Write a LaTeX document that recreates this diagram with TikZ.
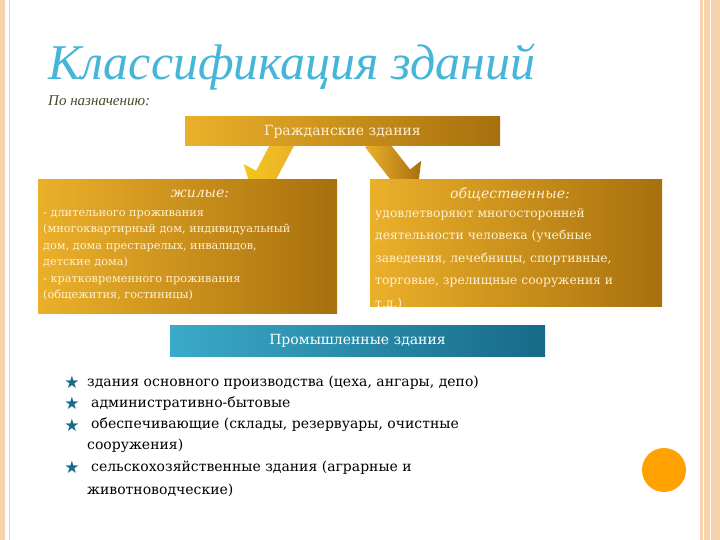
\documentclass[tikz,border=0pt]{standalone}
\usepackage{fontspec}
\setmainfont{DejaVu Serif}
\newfontfamily\libser{Liberation Serif}
\newfontfamily\dejavu{DejaVu Sans}
\usetikzlibrary{shapes.arrows}
\definecolor{goldA}{HTML}{EBB02A}
\definecolor{goldB}{HTML}{A8700E}
\definecolor{tealA}{HTML}{3AAAC8}
\definecolor{tealB}{HTML}{176A88}
\definecolor{titleblue}{HTML}{45B5D8}
\definecolor{peach}{HTML}{F6D3AC}
\definecolor{boxtext}{HTML}{FFF0D0}
\begin{document}
\begin{tikzpicture}[x=1pt,y=-1pt,
  goldbox/.style={left color=goldA,right color=goldB,draw=none},
  tealbox/.style={left color=tealA,right color=tealB,draw=none},
  btext/.style={text=boxtext,font=\fontsize{11.3}{16.5}\selectfont,align=left,anchor=north west,inner sep=0pt},
  item/.style={anchor=west,inner sep=0pt,font=\fontsize{14}{17}\selectfont,align=left},
  star/.style={text=tealB,font=\dejavu\fontsize{17}{17}\selectfont,inner sep=0pt}]
\useasboundingbox (0,0) rectangle (720,540);
\fill[white] (0,0) rectangle (720,540);
% frame
\fill[peach] (0,0) rectangle (5,540);
\draw[peach,line width=1pt] (9,0) -- (9,540);
\fill[peach] (700,0) rectangle (720,540);
\draw[white,line width=1pt] (703,0) -- (703,540);
\draw[white,line width=1pt] (710,0) -- (710,540);
% title
\node[anchor=base west,inner sep=0pt,text=titleblue,font=\libser\itshape\fontsize{50}{50}\selectfont] (title) at (48,80) {Классификация зданий};
\node[anchor=base west,inner sep=0pt,text=black!60!olive,font=\libser\itshape\fontsize{15}{15}\selectfont] (sub) at (48,106) {По назначению:};
% arrows
\node[single arrow,left color=goldA!70!yellow,right color=goldA,draw=none,minimum height=66pt,minimum width=50pt,single arrow head extend=12pt,inner sep=9pt,rotate=-118] (al) at (272,164) {};
\node[single arrow,left color=goldA,right color=goldB,draw=none,minimum height=70pt,minimum width=50pt,single arrow head extend=12pt,inner sep=9pt,rotate=-52] (ar) at (392,164) {};
% boxes
\fill[goldbox] (185,117) rectangle (500,146);
\node[text=boxtext,font=\fontsize{14}{14}\selectfont] (civ) at (342.5,131.5) {Гражданские здания};
\fill[goldbox] (38,180) rectangle (337,313);
\fill[goldbox] (370,180) rectangle (662,306);
\node[text=boxtext,font=\itshape\fontsize{14}{14}\selectfont] (res) at (200,194) {жилые:};
\node[btext] (restxt) at (43,210) {- длительного проживания\\(многоквартирный дом, индивидуальный\\дом, дома престарелых, инвалидов,\\детские дома)\\- кратковременного проживания\\(общежития, гостиницы)};
\node[text=boxtext,font=\itshape\fontsize{14}{14}\selectfont] (pub) at (510,194) {общественные:};
\node[btext,font=\fontsize{12.3}{22.5}\selectfont] (pubtxt) at (375,208) {удовлетворяют многосторонней\\деятельности человека (учебные\\заведения, лечебницы, спортивные,\\торговые, зрелищные сооружения и\\т.д.)};
\fill[tealbox] (170,325) rectangle (545,356);
\node[text=white,font=\fontsize{14}{14}\selectfont] (ind) at (357.5,341) {Промышленные здания};
% list
\foreach \y in {382,403,425,467} \node[star] at (72,\y) {★};
\node[item] (i1) at (87,383) {здания основного производства (цеха, ангары, депо)};
\node[item] (i2) at (91,404) {административно-бытовые};
\node[item] (i3) at (91,425) {обеспечивающие (склады, резервуары, очистные};
\node[item] (i3b) at (87,446) {сооружения)};
\node[item] (i4) at (91,468) {сельскохозяйственные здания (аграрные и};
\node[item] (i4b) at (87,490) {животноводческие)};
\fill[orange!60!yellow!90!red] (664,470) circle (22);
\end{tikzpicture}
\end{document}
